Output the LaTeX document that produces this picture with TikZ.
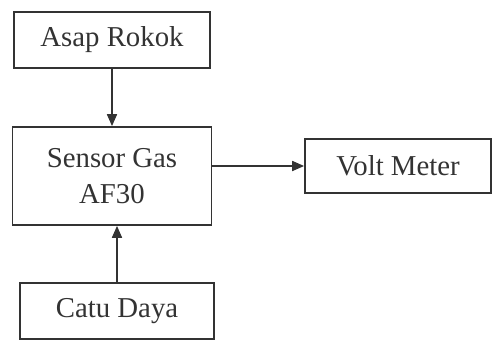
\documentclass[tikz,border=0pt]{standalone}
\usepackage{fontspec}
\setmainfont{Liberation Serif}
\usetikzlibrary{arrows.meta}
\def\px{0.75pt}
\begin{document}
\begin{tikzpicture}[x=0.75pt,y=-0.75pt,
  blk/.style={draw=black!80,line width=1.3pt,inner sep=0pt,align=center,
    font=\fontsize{21.6}{27}\selectfont,text=black!80},
  arr/.style={draw=black!80,line width=1.3pt,-{Triangle[length=9pt,width=7.5pt]}}]
\useasboundingbox (0,0) rectangle (493,343);
\node[blk,minimum width=196*\px,minimum height=56*\px] (a) at (112,40) {Asap Rokok};
\node[blk,minimum width=199*\px,minimum height=98*\px] (s) at (112,176) {Sensor Gas\\AF30};
\node[blk,minimum width=186*\px,minimum height=54*\px] (v) at (398,166) {Volt Meter};
\node[blk,minimum width=194*\px,minimum height=56*\px] (c) at (117,311) {Catu Daya};
\draw[arr] (a.south) -- (s.north);
\draw[arr] (c.north) -- (s.south -| c.north);
\draw[arr] (s.east |- v.west) -- (v.west);
\end{tikzpicture}
\end{document}
